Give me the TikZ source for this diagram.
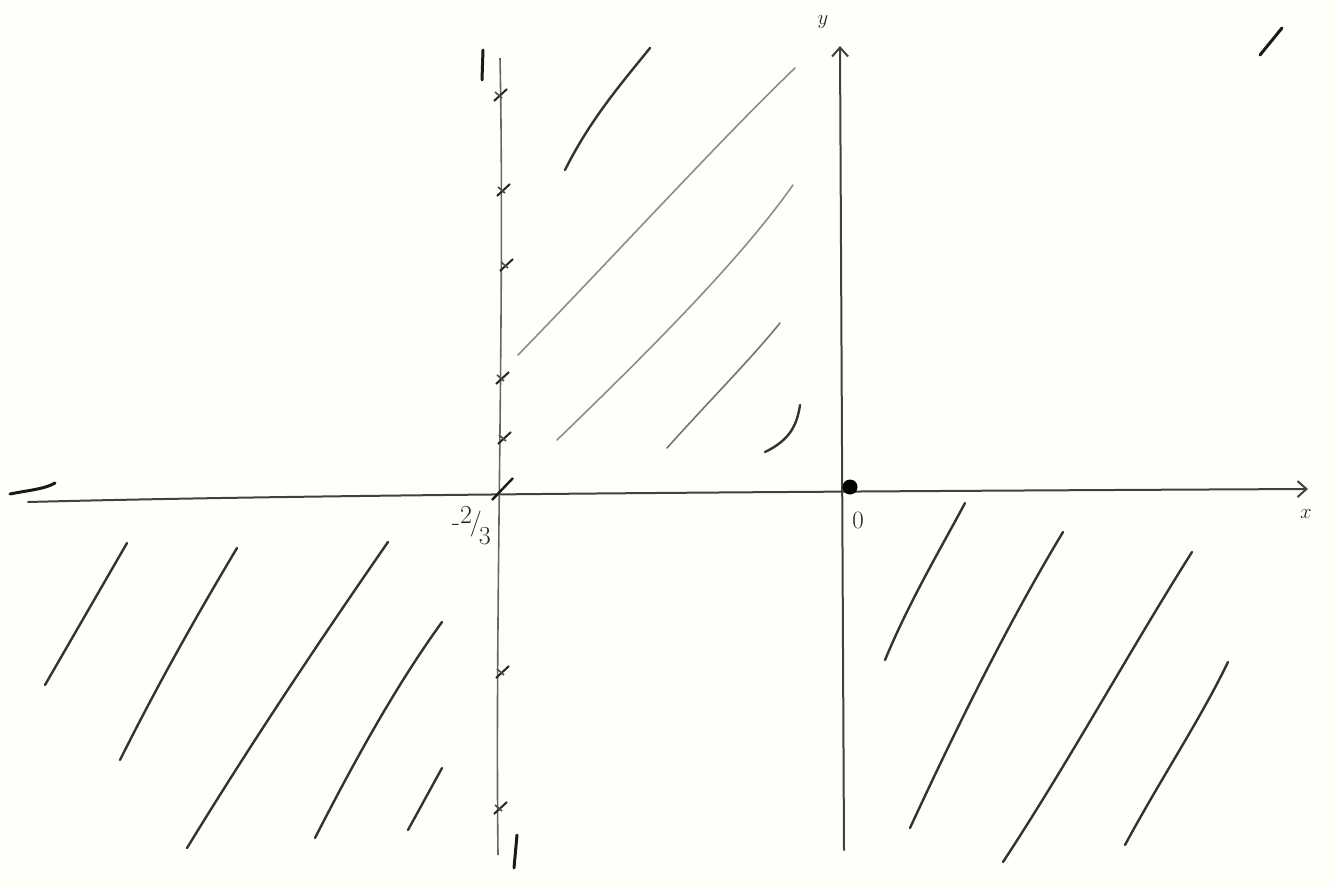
\documentclass[tikz,border=0pt]{standalone}
\usetikzlibrary{arrows.meta}
\begin{document}
\begin{tikzpicture}[x=1pt,y=-1pt,
  axis/.style={line width=2pt,draw=black!75,line cap=round},
  hatch/.style={line width=2.4pt,draw=black!80,line cap=round},
  lighthatch/.style={line width=1.6pt,draw=black!45,line cap=round},
  penstroke/.style={line width=3pt,draw=black!90,line cap=round},
  lbl/.style={font=\fontsize{26}{28}\selectfont,text=black!85}]
\fill[black!2!yellow!2!white] (0,0) rectangle (1334,888);
\useasboundingbox (0,0) rectangle (1334,888);
% horizontal axis
\coordinate (xl) at (28,502);
\coordinate (xr) at (1308,489);
\draw[axis,-{Straight Barb[length=9pt,width=16pt,line width=2pt]}] (xl) .. controls (300,495) and (700,492) .. (xr);
\node[lbl,font=\fontsize{20}{22}\selectfont] (xlab) at (1306,514) {$x$};
\draw[penstroke] (10,494) .. controls (30,490) and (45,489) .. (55,483);
% y axis
\coordinate (yb) at (844,850);
\coordinate (yt) at (840,46);
\draw[axis,-{Straight Barb[length=9pt,width=16pt,line width=2pt]}] (yb) -- (yt);
\node[lbl,font=\fontsize{22}{24}\selectfont] (ylab) at (823,22) {$y$};
% origin
\node[circle,fill=black,minimum size=15pt,inner sep=0pt] (o) at (850,487) {};
\node[lbl] (olab) at (858,520) {$0$};
% vertical line x=-2/3
\coordinate (vt) at (500,58);
\coordinate (vb) at (498,855);
\draw[line width=1.6pt,draw=black!60] (vt) .. controls (505,300) and (495,600) .. (vb);
\foreach \yy/\xx in {95/500,190/503,265/506,378/502,438/504,672/502,808/500}{
  \draw[line width=2pt,black!85] (\xx-6,\yy+6) -- (\xx+7,\yy-6);
  \draw[line width=1.6pt,black!70] (\xx-5,\yy-3) -- (\xx+2,\yy+3);
}
\draw[line width=2.4pt,black!90] (492,500) -- (513,478);
\node[lbl,inner sep=1pt,anchor=east] (frac) at (492,526) {-\raisebox{7pt}{2}\kern-2pt/\kern-3pt\raisebox{-14pt}{3}};
% vertical strokes (labels)
\draw[penstroke] (483,50) -- (482,80);
\draw[penstroke] (517,835) -- (514,868);
\draw[penstroke] (1282,28) -- (1260,55);
% hatching upper middle
\draw[hatch] (565,170) .. controls (590,120) and (620,85) .. (650,48);
\draw[lighthatch] (518,355) .. controls (620,250) and (720,140) .. (795,68);
\draw[lighthatch] (557,440) .. controls (650,350) and (740,260) .. (793,185);
\draw[lighthatch,black!55] (667,448) .. controls (710,400) and (750,360) .. (780,323);
\draw[hatch] (765,452) .. controls (790,440) and (797,425) .. (800,405);
% hatching lower left
\draw[hatch] (45,685) -- (127,543);
\draw[hatch] (120,760) .. controls (160,680) and (200,610) .. (237,548);
\draw[hatch] (187,848) .. controls (250,745) and (320,640) .. (388,542);
\draw[hatch] (315,838) .. controls (360,750) and (400,680) .. (442,622);
\draw[hatch] (408,830) -- (442,768);
% hatching lower right
\draw[hatch] (885,660) .. controls (910,600) and (940,550) .. (965,503);
\draw[hatch] (910,828) .. controls (960,720) and (1010,620) .. (1063,532);
\draw[hatch] (1003,862) .. controls (1070,760) and (1130,650) .. (1192,552);
\draw[hatch] (1125,845) .. controls (1160,780) and (1200,720) .. (1228,662);
\end{tikzpicture}
\end{document}
